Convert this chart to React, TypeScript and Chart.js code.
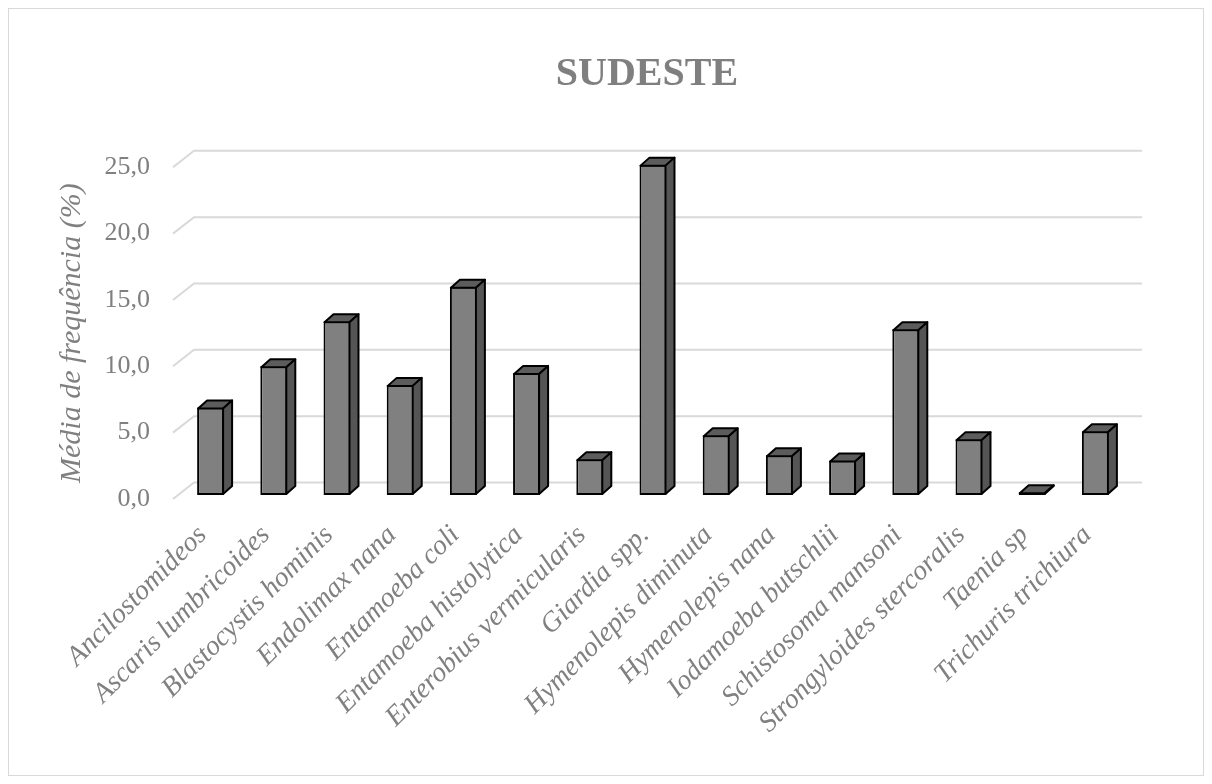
import React, { useEffect, useRef } from "react";
import { Chart, registerables } from "chart.js";

Chart.register(...registerables);

const TITLE = "SUDESTE";
const Y_TITLE = "Média de frequência (%)";

const categories = [
  "Ancilostomideos",
  "Ascaris lumbricoides",
  "Blastocystis hominis",
  "Endolimax nana",
  "Entamoeba coli",
  "Entamoeba histolytica",
  "Enterobius vermicularis",
  "Giardia spp.",
  "Hymenolepis diminuta",
  "Hymenolepis nana",
  "Iodamoeba butschlii",
  "Schistosoma mansoni",
  "Strongyloides stercoralis",
  "Taenia sp",
  "Trichuris trichiura",
];

const frequencies = [6.6, 9.7, 13.1, 8.3, 15.7, 9.2, 2.7, 24.9, 4.5, 3.0, 2.6, 12.5, 4.2, 0.2, 4.8];

const yTicks = [0, 5, 10, 15, 20, 25];

const SERIF = "'Liberation Serif', 'Times New Roman', serif";
const TEXT_GRAY = "#808080";
const GRID_GRAY = "#d9d9d9";

const FACE = { front: "#808080", side: "#555555", top: "#5c5c5c", edge: "#000000" };
// pseudo-3D offsets: bars sit slightly behind the floor's front edge, wall further back
const BAR_SHIFT = { x: 6, y: -4 };
const BAR_DEPTH = { x: 9, y: -8 };
const WALL = { x: 21, y: -16.5 };

const formatTick = (v: number) => v.toFixed(1).replace(".", ",");

const depthPlugin = {
  id: "depth3d",
  beforeDatasetsDraw(chart: any) {
    const { ctx, chartArea, scales } = chart;
    const y = scales.y;
    ctx.save();
    ctx.strokeStyle = GRID_GRAY;
    ctx.lineWidth = 2;
    ctx.lineJoin = "miter";
    y.ticks.forEach((t: any) => {
      const py = y.getPixelForValue(t.value);
      ctx.beginPath();
      ctx.moveTo(chartArea.left, py);
      ctx.lineTo(chartArea.left + WALL.x, py + WALL.y);
      ctx.lineTo(chartArea.right + WALL.x, py + WALL.y);
      ctx.stroke();
    });
    ctx.restore();
    // front faces are drawn by the bar controller in the shifted frame
    ctx.save();
    ctx.translate(BAR_SHIFT.x, BAR_SHIFT.y);
  },
  afterDatasetsDraw(chart: any) {
    const { ctx } = chart;
    const meta = chart.getDatasetMeta(0);
    ctx.lineWidth = 2;
    ctx.lineJoin = "round";
    ctx.strokeStyle = FACE.edge;
    meta.data.forEach((bar: any) => {
      const { x, y, base, width } = bar.getProps(["x", "y", "base", "width"], true);
      const l = x - width / 2 + 1;
      const r = x + width / 2 - 1;
      const b = base - 1;
      const t = Math.min(y + 1, b);
      const dx = BAR_DEPTH.x;
      const dy = BAR_DEPTH.y;
      // top face
      ctx.beginPath();
      ctx.moveTo(l, t);
      ctx.lineTo(l + dx, t + dy);
      ctx.lineTo(r + dx, t + dy);
      ctx.lineTo(r, t);
      ctx.closePath();
      ctx.fillStyle = FACE.top;
      ctx.fill();
      ctx.stroke();
      // side face
      ctx.beginPath();
      ctx.moveTo(r, t);
      ctx.lineTo(r + dx, t + dy);
      ctx.lineTo(r + dx, b + dy);
      ctx.lineTo(r, b);
      ctx.closePath();
      ctx.fillStyle = FACE.side;
      ctx.fill();
      ctx.stroke();
    });
    ctx.restore();
  },
};

export default function App() {
  const canvasRef = useRef<HTMLCanvasElement | null>(null);

  useEffect(() => {
    if (!canvasRef.current) return;
    const chart = new Chart(canvasRef.current, {
      type: "bar",
      data: {
        labels: categories,
        datasets: [
          {
            data: frequencies,
            backgroundColor: FACE.front,
            borderColor: FACE.edge,
            borderWidth: 2,
            borderSkipped: false,
            barPercentage: 0.427,
            categoryPercentage: 1,
            clip: false,
          } as any,
        ],
      },
      options: {
        responsive: false,
        animation: false,
        events: [],
        layout: { padding: { left: 0, right: 82, top: 0, bottom: 0 } },
        plugins: {
          legend: { display: false },
          tooltip: { enabled: false },
          title: {
            display: true,
            text: TITLE,
            fullSize: false,
            color: "#7f7f7f",
            font: { family: SERIF, size: 40, weight: "bold" },
            padding: { top: 41.5, bottom: 68.8 },
          },
        },
        scales: {
          x: {
            grid: { display: false, drawTicks: false },
            border: { display: false },
            ticks: {
              autoSkip: false,
              minRotation: 45,
              maxRotation: 45,
              padding: 20,
              labelOffset: -2,
              color: TEXT_GRAY,
              font: { family: SERIF, style: "italic", size: 28 },
            },
            afterFit(scale: any) {
              scale.height = 276;
            },
          },
          y: {
            min: 0,
            max: 25,
            grid: { display: false, drawTicks: false },
            border: { display: false },
            afterBuildTicks(scale: any) {
              scale.ticks = yTicks.map((v) => ({ value: v }));
            },
            ticks: {
              padding: 23,
              color: TEXT_GRAY,
              font: { family: SERIF, size: 26 },
              callback: (v: any) => formatTick(Number(v)),
            },
            title: {
              display: true,
              text: Y_TITLE,
              color: TEXT_GRAY,
              font: { family: SERIF, style: "italic", size: 30 },
              padding: { top: 45, bottom: 0 },
            },
            afterFit(scale: any) {
              scale.width = 164;
            },
          },
        },
      } as any,
      plugins: [depthPlugin],
    });
    return () => chart.destroy();
  }, []);

  return (
    <div
      style={{
        width: 1196,
        height: 768,
        boxSizing: "border-box",
        border: "1px solid #d9d9d9",
        background: "#ffffff",
      }}
    >
      <canvas ref={canvasRef} width={1194} height={766} style={{ display: "block" }} />
    </div>
  );
}
